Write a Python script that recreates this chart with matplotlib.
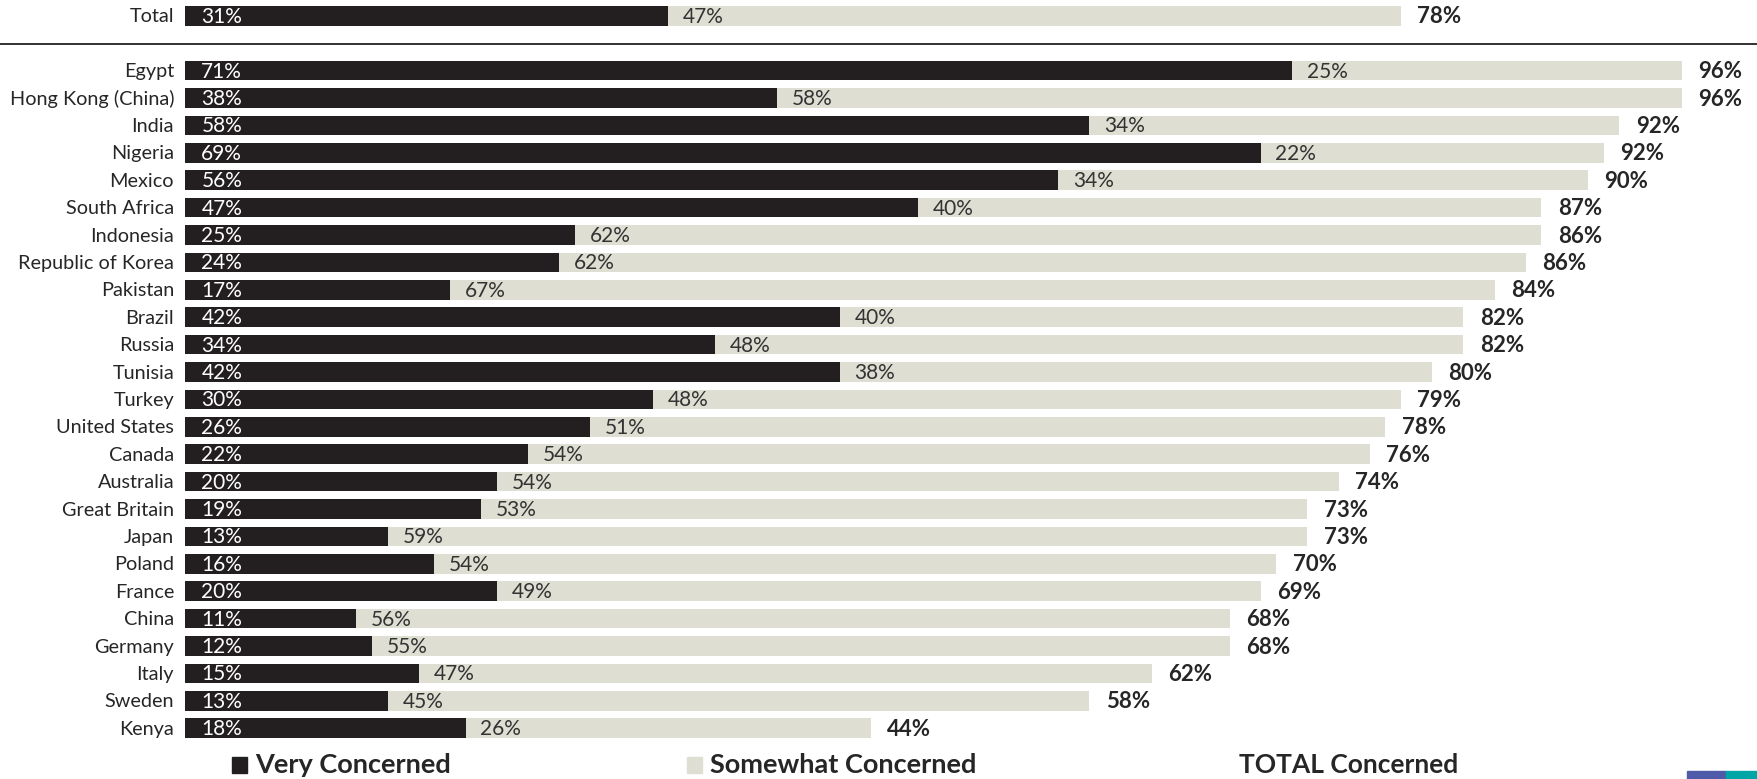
import matplotlib.pyplot as plt
from matplotlib.patches import Rectangle

# Data
countries = ['Egypt', 'Hong Kong (China)', 'India', 'Nigeria', 'Mexico', 'South Africa',
             'Indonesia', 'Republic of Korea', 'Pakistan', 'Brazil', 'Russia', 'Tunisia',
             'Turkey', 'United States', 'Canada', 'Australia', 'Great Britain', 'Japan',
             'Poland', 'France', 'China', 'Germany', 'Italy', 'Sweden', 'Kenya']
very = [71, 38, 58, 69, 56, 47, 25, 24, 17, 42, 34, 42, 30, 26, 22, 20, 19, 13, 16, 20, 11, 12, 15, 13, 18]
somewhat = [25, 58, 34, 22, 34, 40, 62, 62, 67, 40, 48, 38, 48, 51, 54, 54, 53, 59, 54, 49, 56, 55, 47, 45, 26]
total = [96, 96, 92, 92, 90, 87, 86, 86, 84, 82, 82, 80, 79, 78, 76, 74, 73, 73, 70, 69, 68, 68, 62, 58, 44]

total_label = 'Total'
total_very = 31
total_somewhat = 47
total_total = 78

legend_labels = ['Very Concerned', 'Somewhat Concerned', 'TOTAL Concerned']

DARK = '#231f20'
LIGHT = '#deded2'
TXT = '#262626'
plt.rcParams['font.family'] = ['Lato', 'DejaVu Sans']

W, H = 1757, 779
fig = plt.figure(figsize=(W / 100, H / 100), dpi=100)

# axes placed in pixel terms: bar origin at x=185, 100% = 1559 px
y_top, y_bot = -2.5, 24.5
px_top = 70.6 + 27.4 * y_top
px_bot = 70.6 + 27.4 * y_bot
ax = fig.add_axes([185 / W, 1 - px_bot / H, 1559 / W, (px_bot - px_top) / H])
ax.set_xlim(0, 100)
ax.set_ylim(y_bot, y_top)
ax.axis('off')

rows = [(-2, total_label, total_very, total_somewhat, total_total)]
for i, c in enumerate(countries):
    rows.append((i, c, very[i], somewhat[i], total[i]))

bh = 0.72
off = 1.05
for y, name, v, s, t in rows:
    ax.barh(y, v, height=bh, color=DARK, left=0)
    ax.barh(y, s, height=bh, color=LIGHT, left=v)
    ax.text(-0.7, y + 0.04, name, ha='right', va='center', fontsize=14.3, color=TXT)
    ax.text(off, y + 0.04, f'{v}%', ha='left', va='center', fontsize=15, color='white')
    ax.text(v + off * 0.9, y + 0.04, f'{s}%', ha='left', va='center', fontsize=15, color='#333333')
    ax.text(v + s + off, y + 0.04, f'{t}%', ha='left', va='center', fontsize=16,
            color=TXT, fontweight='bold')

# separator line under Total row
fig.add_artist(plt.Line2D([0, 1], [1 - 44 / H, 1 - 44 / H], color='#222222', lw=1.3))

# legend
ly = 1 - 765 / H
fig.add_artist(Rectangle((232 / W, ly - 8 / H), 15 / W, 16 / H, color=DARK))
fig.add_artist(Rectangle((687 / W, ly - 8 / H), 15 / W, 16 / H, color=LIGHT))
fig.text(255 / W, ly, legend_labels[0], ha='left', va='center', fontsize=19.5,
         fontweight='bold', color=TXT)
fig.text(710 / W, ly, legend_labels[1], ha='left', va='center', fontsize=19.5,
         fontweight='bold', color=TXT)
fig.text(1239 / W, ly, legend_labels[2], ha='left', va='center', fontsize=19,
         fontweight='bold', color=TXT)

# small colour strip in the bottom right corner
fig.add_artist(Rectangle((1687 / W, 0), 39 / W, 8 / H, color='#4f5ba8'))
fig.add_artist(Rectangle((1726 / W, 0), 31 / W, 8 / H, color='#00a6a6'))

fig.savefig('out.png', dpi=100)
